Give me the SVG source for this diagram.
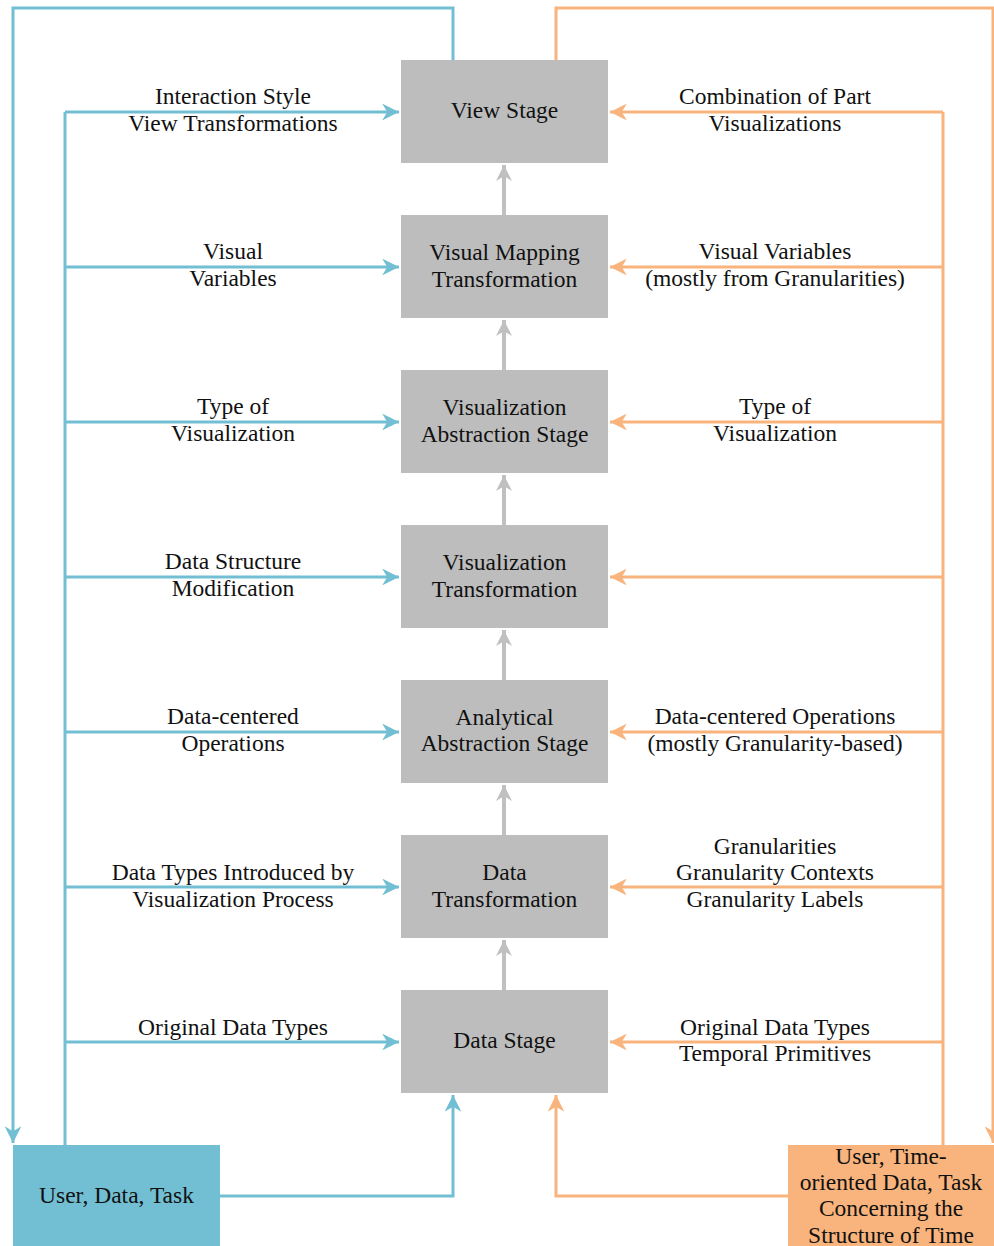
<svg xmlns="http://www.w3.org/2000/svg" width="994" height="1246" viewBox="0 0 994 1246">
  <defs>
    <marker id="ah-blue" viewBox="0 0 10 10" refX="10" refY="5" markerWidth="5.6" markerHeight="5.6" markerUnits="strokeWidth" orient="auto">
      <path d="M0,0 L10,5 L0,10 L3,5 z" fill="#72bfd3"/>
    </marker>
    <marker id="ah-orange" viewBox="0 0 10 10" refX="10" refY="5" markerWidth="5.6" markerHeight="5.6" markerUnits="strokeWidth" orient="auto">
      <path d="M0,0 L10,5 L0,10 L3,5 z" fill="#f8b47c"/>
    </marker>
    <marker id="ah-gray" viewBox="0 0 10 10" refX="10" refY="5" markerWidth="4" markerHeight="4.2" markerUnits="strokeWidth" orient="auto">
      <path d="M0,0 L10,5 L0,10 L3,5 z" fill="#c0c0c0"/>
    </marker>
  </defs>
  <style>
    text { font-family: "Liberation Serif", "DejaVu Serif", serif; font-size: 23.5px; fill: #111; text-anchor: middle; }
    .stage { fill: #bdbdbd; }
    .blue { fill: none; stroke: #72bfd3; stroke-width: 3; }
    .orange { fill: none; stroke: #f8b47c; stroke-width: 3; }
    .gray { fill: none; stroke: #c0c0c0; stroke-width: 4; }
  </style>
  <rect width="994" height="1246" fill="#ffffff"/>

  <!-- connectors -->
  <g id="connectors">
    <!-- stage pipeline -->
    <line class="gray" x1="504" y1="215" x2="504" y2="165" marker-end="url(#ah-gray)"/>
    <line class="gray" x1="504" y1="370" x2="504" y2="320" marker-end="url(#ah-gray)"/>
    <line class="gray" x1="504" y1="525" x2="504" y2="475" marker-end="url(#ah-gray)"/>
    <line class="gray" x1="504" y1="680" x2="504" y2="630" marker-end="url(#ah-gray)"/>
    <line class="gray" x1="504" y1="835" x2="504" y2="785" marker-end="url(#ah-gray)"/>
    <line class="gray" x1="504" y1="990" x2="504" y2="940" marker-end="url(#ah-gray)"/>

    <!-- blue feedback loop -->
    <polyline class="blue" points="453,60 453,8 13,8 13,1143" marker-end="url(#ah-blue)"/>
    <!-- blue trunk -->
    <line class="blue" x1="65" y1="1145" x2="65" y2="112"/>
    <line class="blue" x1="65" y1="112" x2="399" y2="112" marker-end="url(#ah-blue)"/>
    <line class="blue" x1="65" y1="267" x2="399" y2="267" marker-end="url(#ah-blue)"/>
    <line class="blue" x1="65" y1="422" x2="399" y2="422" marker-end="url(#ah-blue)"/>
    <line class="blue" x1="65" y1="577" x2="399" y2="577" marker-end="url(#ah-blue)"/>
    <line class="blue" x1="65" y1="732" x2="399" y2="732" marker-end="url(#ah-blue)"/>
    <line class="blue" x1="65" y1="887" x2="399" y2="887" marker-end="url(#ah-blue)"/>
    <line class="blue" x1="65" y1="1042" x2="399" y2="1042" marker-end="url(#ah-blue)"/>
    <polyline class="blue" points="220,1196 453,1196 453,1095" marker-end="url(#ah-blue)"/>

    <!-- orange feedback loop -->
    <polyline class="orange" points="556,60 556,8 993,8 993,1143" marker-end="url(#ah-orange)"/>
    <!-- orange trunk -->
    <line class="orange" x1="943" y1="1145" x2="943" y2="112"/>
    <line class="orange" x1="943" y1="112" x2="610" y2="112" marker-end="url(#ah-orange)"/>
    <line class="orange" x1="943" y1="267" x2="610" y2="267" marker-end="url(#ah-orange)"/>
    <line class="orange" x1="943" y1="422" x2="610" y2="422" marker-end="url(#ah-orange)"/>
    <line class="orange" x1="943" y1="577" x2="610" y2="577" marker-end="url(#ah-orange)"/>
    <line class="orange" x1="943" y1="732" x2="610" y2="732" marker-end="url(#ah-orange)"/>
    <line class="orange" x1="943" y1="887" x2="610" y2="887" marker-end="url(#ah-orange)"/>
    <line class="orange" x1="943" y1="1042" x2="610" y2="1042" marker-end="url(#ah-orange)"/>
    <polyline class="orange" points="788,1196 556,1196 556,1095" marker-end="url(#ah-orange)"/>

    <!-- left labels -->
    <text x="233" y="104">Interaction Style</text>
    <text x="233" y="131">View Transformations</text>
    <text x="233" y="259">Visual</text>
    <text x="233" y="286">Variables</text>
    <text x="233" y="414">Type of</text>
    <text x="233" y="441">Visualization</text>
    <text x="233" y="569">Data Structure</text>
    <text x="233" y="596">Modification</text>
    <text x="233" y="724">Data-centered</text>
    <text x="233" y="751">Operations</text>
    <text x="233" y="880">Data Types Introduced by</text>
    <text x="233" y="907">Visualization Process</text>
    <text x="233" y="1035">Original Data Types</text>

    <!-- right labels -->
    <text x="775" y="104">Combination of Part</text>
    <text x="775" y="131">Visualizations</text>
    <text x="775" y="259">Visual Variables</text>
    <text x="775" y="286">(mostly from Granularities)</text>
    <text x="775" y="414">Type of</text>
    <text x="775" y="441">Visualization</text>
    <text x="775" y="724">Data-centered Operations</text>
    <text x="775" y="751">(mostly Granularity-based)</text>
    <text x="775" y="854">Granularities</text>
    <text x="775" y="880">Granularity Contexts</text>
    <text x="775" y="907">Granularity Labels</text>
    <text x="775" y="1035">Original Data Types</text>
    <text x="775" y="1061">Temporal Primitives</text>
  </g>

  <!-- stages -->
  <g id="view-stage">
    <rect class="stage" x="401" y="60" width="207" height="103"/>
    <text x="504.5" y="118">View Stage</text>
  </g>
  <g id="visual-mapping-transformation">
    <rect class="stage" x="401" y="215" width="207" height="103"/>
    <text x="504.5" y="260">Visual Mapping</text>
    <text x="504.5" y="287">Transformation</text>
  </g>
  <g id="visualization-abstraction-stage">
    <rect class="stage" x="401" y="370" width="207" height="103"/>
    <text x="504.5" y="415">Visualization</text>
    <text x="504.5" y="442">Abstraction Stage</text>
  </g>
  <g id="visualization-transformation">
    <rect class="stage" x="401" y="525" width="207" height="103"/>
    <text x="504.5" y="570">Visualization</text>
    <text x="504.5" y="597">Transformation</text>
  </g>
  <g id="analytical-abstraction-stage">
    <rect class="stage" x="401" y="680" width="207" height="103"/>
    <text x="504.5" y="725">Analytical</text>
    <text x="504.5" y="751">Abstraction Stage</text>
  </g>
  <g id="data-transformation">
    <rect class="stage" x="401" y="835" width="207" height="103"/>
    <text x="504.5" y="880">Data</text>
    <text x="504.5" y="907">Transformation</text>
  </g>
  <g id="data-stage">
    <rect class="stage" x="401" y="990" width="207" height="103"/>
    <text x="504.5" y="1048">Data Stage</text>
  </g>

  <!-- sources -->
  <g id="user-data-task">
    <rect x="13" y="1145" width="207" height="101" fill="#72bfd3"/>
    <text x="116.5" y="1203">User, Data, Task</text>
  </g>
  <g id="user-time-oriented-data-task">
    <rect x="788" y="1145" width="206" height="101" fill="#f8b47c"/>
    <text x="891" y="1164">User, Time-</text>
    <text x="891" y="1190">oriented Data, Task</text>
    <text x="891" y="1216">Concerning the</text>
    <text x="891" y="1243">Structure of Time</text>
  </g>
</svg>
